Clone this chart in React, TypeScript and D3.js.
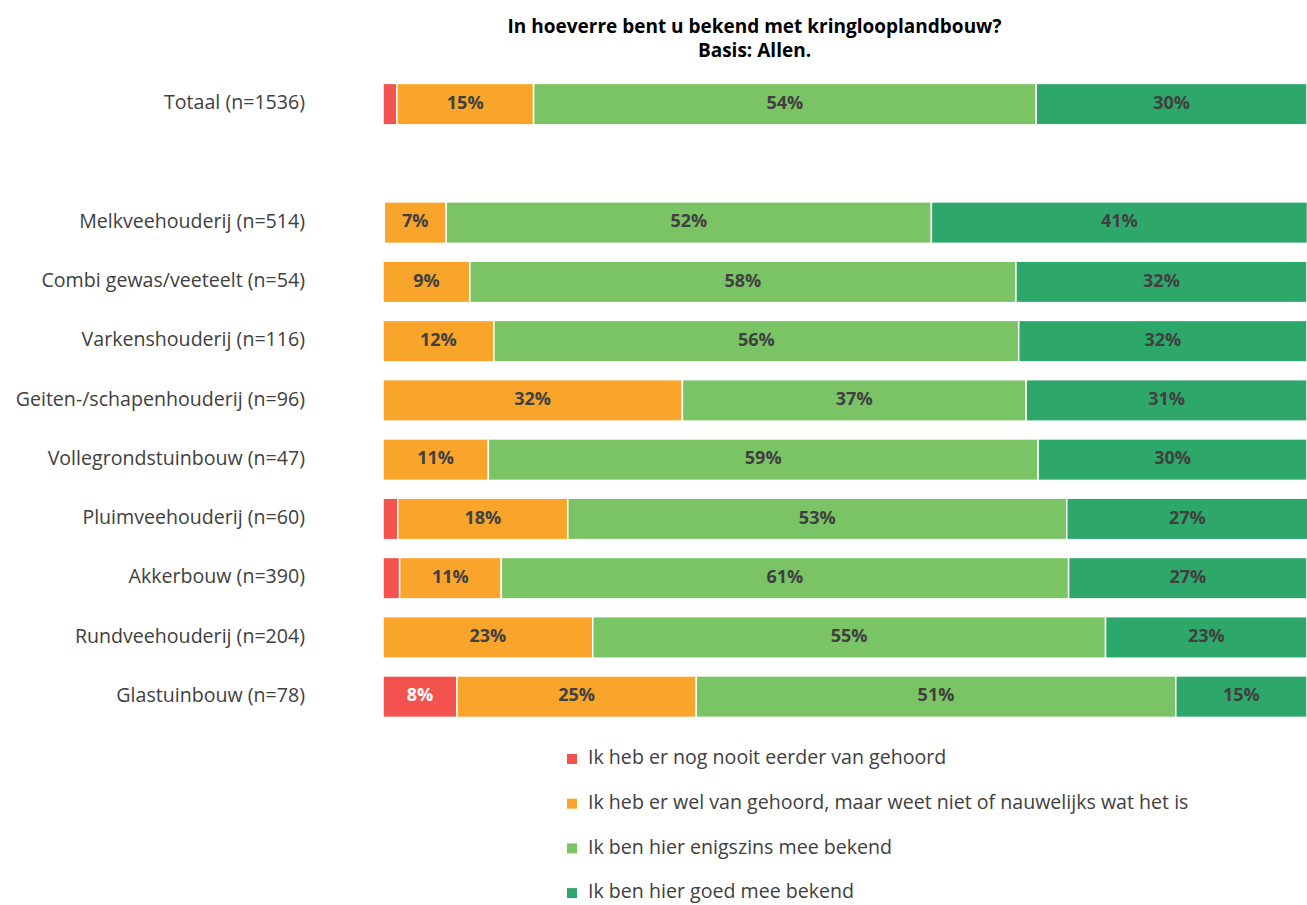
import React, { useEffect, useRef } from 'react';
import * as d3 from 'd3';

// rijen (lege string = witregel tussen Totaal en de sectoren)
const categories = [
	'Totaal (n=1536)',
	'',
	'Melkveehouderij (n=514)',
	'Combi gewas/veeteelt (n=54)',
	'Varkenshouderij (n=116)',
	'Geiten-/schapenhouderij (n=96)',
	'Vollegrondstuinbouw (n=47)',
	'Pluimveehouderij (n=60)',
	'Akkerbouw (n=390)',
	'Rundveehouderij (n=204)',
	'Glastuinbouw (n=78)',
];

const seriesNames = [
	'Ik heb er nog nooit eerder van gehoord',
	'Ik heb er wel van gehoord, maar weet niet of nauwelijks wat het is',
	'Ik ben hier enigszins mee bekend',
	'Ik ben hier goed mee bekend',
];

const seriesColors = ['#F4524F', '#F9A52B', '#7BC466', '#2EA76B'];

const nooitGehoord = [1.5, 0, 0.15, 0, 0, 0, 0, 1.6, 1.8, 0, 8.0];
const welGehoord = [14.8, 0, 6.7, 9.4, 12.0, 32.4, 11.4, 18.4, 11.0, 22.7, 25.9];
const enigszins = [54.4, 0, 52.5, 59.1, 56.8, 37.2, 59.5, 54.0, 61.4, 55.5, 51.9];
const goed = [29.3, 0, 40.7, 31.5, 31.2, 30.4, 29.1, 26.1, 25.8, 21.8, 14.2];

// afgedrukte percentages (null = geen label)
const nooitLabels = [null, null, null, null, null, null, null, null, null, null, '8%'];
const welLabels = ['15%', null, '7%', '9%', '12%', '32%', '11%', '18%', '11%', '23%', '25%'];
const enigszinsLabels = ['54%', null, '52%', '58%', '56%', '37%', '59%', '53%', '61%', '55%', '51%'];
const goedLabels = ['30%', null, '41%', '32%', '32%', '31%', '30%', '27%', '27%', '23%', '15%'];

const titleLines = ['In hoeverre bent u bekend met kringlooplandbouw?', 'Basis: Allen.'];

const FONT = '"Open Sans", Lato, sans-serif';

const App: React.FC = () => {
	const svgRef = useRef<SVGSVGElement | null>(null);

	useEffect(() => {
		if (!svgRef.current) return;
		const width = 1307;
		const height = 905;

		const svg = d3.select(svgRef.current);
		svg.selectAll('*').remove();
		svg.attr('width', width).attr('height', height).style('font-family', FONT);

		const valueSets = [nooitGehoord, welGehoord, enigszins, goed];
		const labelSets = [nooitLabels, welLabels, enigszinsLabels, goedLabels];

		const rows = categories.map((c, i) => {
			const o: any = { key: String(i), name: c };
			seriesNames.forEach((s, j) => (o[s] = valueSets[j][i]));
			return o;
		});

		const stack = d3.stack<any>().keys(seriesNames);
		const stacked = stack(rows);

		const x = d3.scaleLinear().domain([0, 100]).range([383, 1307]);
		const y = d3
			.scaleBand()
			.domain(rows.map((r) => r.key))
			.range([74.5, 726.3])
			.paddingInner(0.3)
			.paddingOuter(0.15);

		// titel
		svg
			.append('g')
			.selectAll('text')
			.data(titleLines)
			.join('text')
			.attr('x', 754.5)
			.attr('y', (_, i) => 28 + i * 24)
			.attr('text-anchor', 'middle')
			.attr('dominant-baseline', 'middle')
			.attr('font-weight', 'bold')
			.attr('font-size', 19)
			.attr('fill', '#000')
			.text((d) => d);

		// categorie labels
		svg
			.append('g')
			.selectAll('text')
			.data(rows.filter((r) => r.name !== ''))
			.join('text')
			.attr('x', 305)
			.attr('y', (d) => y(d.key)! + y.bandwidth() / 2)
			.attr('text-anchor', 'end')
			.attr('dominant-baseline', 'middle')
			.attr('font-size', 19.6)
			.attr('fill', '#404040')
			.text((d) => d.name);

		// balken
		const layer = svg
			.append('g')
			.selectAll('g')
			.data(stacked)
			.join('g')
			.attr('fill', (d, i) => seriesColors[i]);

		layer
			.selectAll('rect')
			.data((d) => d.filter((p) => p[1] - p[0] > 0))
			.join('rect')
			.attr('x', (p) => x(p[0]))
			.attr('y', (p) => y(p.data.key)!)
			.attr('width', (p) => x(p[1]) - x(p[0]))
			.attr('height', y.bandwidth())
			.attr('stroke', 'white')
			.attr('stroke-width', 1.5);

		// waarde labels
		stacked.forEach((s, si) => {
			svg
				.append('g')
				.selectAll('text')
				.data(s.map((p, i) => ({ p, label: labelSets[si][i] })).filter((d) => d.label))
				.join('text')
				.attr('x', (d) => (x(d.p[0]) + x(d.p[1])) / 2)
				.attr('y', (d) => y(d.p.data.key)! + y.bandwidth() / 2)
				.attr('text-anchor', 'middle')
				.attr('dominant-baseline', 'middle')
				.attr('font-weight', 'bold')
				.attr('font-size', 18)
				.attr('fill', si === 0 ? '#fff' : '#404040')
				.text((d) => d.label as string);
		});

		// legenda
		const legend = svg
			.append('g')
			.selectAll('g')
			.data(seriesNames)
			.join('g')
			.attr('transform', (_, i) => `translate(567, ${759 + i * 44.7})`);

		legend
			.append('rect')
			.attr('x', 0)
			.attr('y', -5)
			.attr('width', 10)
			.attr('height', 10)
			.attr('fill', (_, i) => seriesColors[i]);

		legend
			.append('text')
			.attr('x', 21)
			.attr('y', 0)
			.attr('dominant-baseline', 'middle')
			.attr('font-size', 19.6)
			.attr('fill', '#404040')
			.text((d) => d);
	}, []);

	return <svg ref={svgRef} style={{ position: 'absolute', left: 0, top: 0 }}></svg>;
};

export default App;
